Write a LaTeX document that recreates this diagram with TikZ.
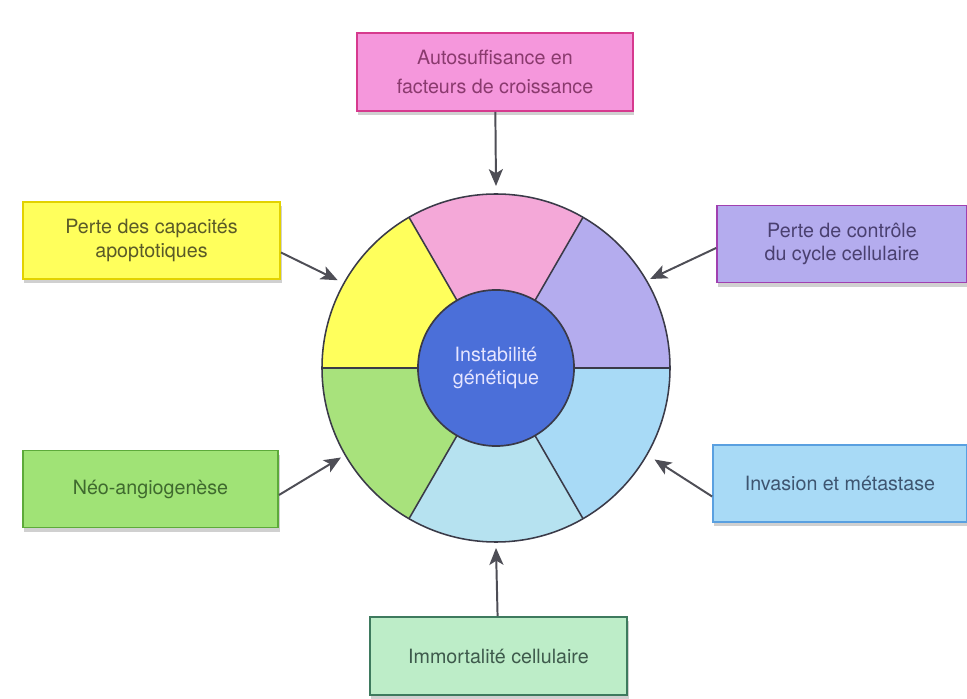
\documentclass[tikz,border=0pt]{standalone}
\usepackage{fontspec}
\setmainfont{TeX Gyre Heros}
\usetikzlibrary{arrows.meta,calc,shadows}

\definecolor{trait}{HTML}{3A3A48}
\definecolor{gris}{HTML}{4E4E56}
% secteurs
\definecolor{rosef}{HTML}{F4A8D8}
\definecolor{jaunef}{HTML}{FFFF5C}
\definecolor{violetf}{HTML}{B4ACEE}
\definecolor{vertf}{HTML}{A8E27C}
\definecolor{cielf}{HTML}{B6E2F0}
\definecolor{bleuf}{HTML}{A8DAF6}
\definecolor{noyauf}{HTML}{4B6FD9}
% boites
\definecolor{rosebord}{HTML}{D63A8E}
\definecolor{rosetxt}{HTML}{8A3A6E}
\definecolor{jaunebord}{HTML}{E2D200}
\definecolor{jaunetxt}{HTML}{5A5A28}
\definecolor{violetbord}{HTML}{A040B0}
\definecolor{violettxt}{HTML}{4A4070}
\definecolor{vertbord}{HTML}{5DAA3A}
\definecolor{verttxt}{HTML}{3F6A2E}
\definecolor{bleubord}{HTML}{5AA0E0}
\definecolor{bleutxt}{HTML}{3E5570}
\definecolor{mentef}{HTML}{BDEDC8}
\definecolor{mentebord}{HTML}{3E7A5E}
\definecolor{mentetxt}{HTML}{3E5A4C}

\tikzset{
  boite/.style={draw, line width=1.2pt, minimum height=1.93cm, align=center,
    font=\fontsize{14}{17}\selectfont,
    drop shadow={shadow xshift=1pt, shadow yshift=-3pt, opacity=0.3, fill=black!60}},
  fleche/.style={draw=gris, line width=1.4pt, -{Stealth[length=12pt,width=10pt,inset=3pt]}},
  rayon/.style={draw=trait, line width=1.1pt},
}

\begin{document}
\begin{tikzpicture}[x=0.025cm,y=0.025cm]
\useasboundingbox[fill=white] (0,0) rectangle (967,698);
\coordinate (c) at (496,330);

% la roue
\foreach \a/\col in {0/violetf,60/rosef,120/jaunef,180/vertf,240/cielf,300/bleuf}
  \fill[\col] (c) -- ++(\a:174) arc[start angle=\a, end angle=\a+60, radius=174] -- cycle;
\foreach \a in {0,60,...,300}
  \draw[rayon] (c) -- ++(\a:174);
\draw[rayon] (c) circle[radius=174];
\node[circle, draw=trait, line width=1.2pt, fill=noyauf, minimum size=3.9cm,
  align=center, text=white!90!blue, font=\fontsize{14}{16}\selectfont] (noyau) at (c) {Instabilité\\génétique};

% les boites
\node[boite, fill=rosef!90!magenta, draw=rosebord, text=rosetxt, minimum width=6.9cm, minimum height=1.95cm,
  font=\fontsize{14}{21}\selectfont] (auto) at (495,626) {Autosuffisance en\\facteurs de croissance};
\node[boite, fill=jaunef, draw=jaunebord, text=jaunetxt, minimum width=6.43cm] (apop) at (151.5,457.5) {Perte des capacités\\apoptotiques};
\node[boite, fill=violetf, draw=violetbord, text=violettxt, minimum width=6.25cm] (cycle) at (842,454) {Perte de contrôle\\du cycle cellulaire};
\node[boite, fill=vertf!95!green, draw=vertbord, text=verttxt, minimum width=6.38cm] (angio) at (150.5,209) {Néo-angiogenèse};
\node[boite, fill=bleuf, draw=bleubord, text=bleutxt, minimum width=6.35cm] (invas) at (840,214.5) {Invasion et métastase};
\node[boite, fill=mentef, draw=mentebord, text=mentetxt, minimum width=6.43cm, minimum height=1.95cm] (immor) at (498.5,42) {Immortalité cellulaire};

% pointes des fleches
\coordinate (pAuto) at ($(c)+(90:182)$);
\coordinate (pApop) at ($(c)+(151:181)$);
\coordinate (pCycle) at ($(c)+(30:178)$);
\coordinate (pAngio) at ($(c)+(210:179)$);
\coordinate (pInvas) at ($(c)+(330:183)$);
\coordinate (pImmor) at ($(c)+(270:180)$);

\draw[fleche] (auto) -- (pAuto);
\draw[fleche] ($(apop.east)+(0,-12)$) -- (pApop);
\draw[fleche] ($(cycle.west)+(0,-4)$) -- (pCycle);
\draw[fleche] ($(angio.east)+(0,-6)$) -- (pAngio);
\draw[fleche] ($(invas.west)+(0,-13)$) -- (pInvas);
\draw[fleche] (immor) -- (pImmor);
\end{tikzpicture}
\end{document}
